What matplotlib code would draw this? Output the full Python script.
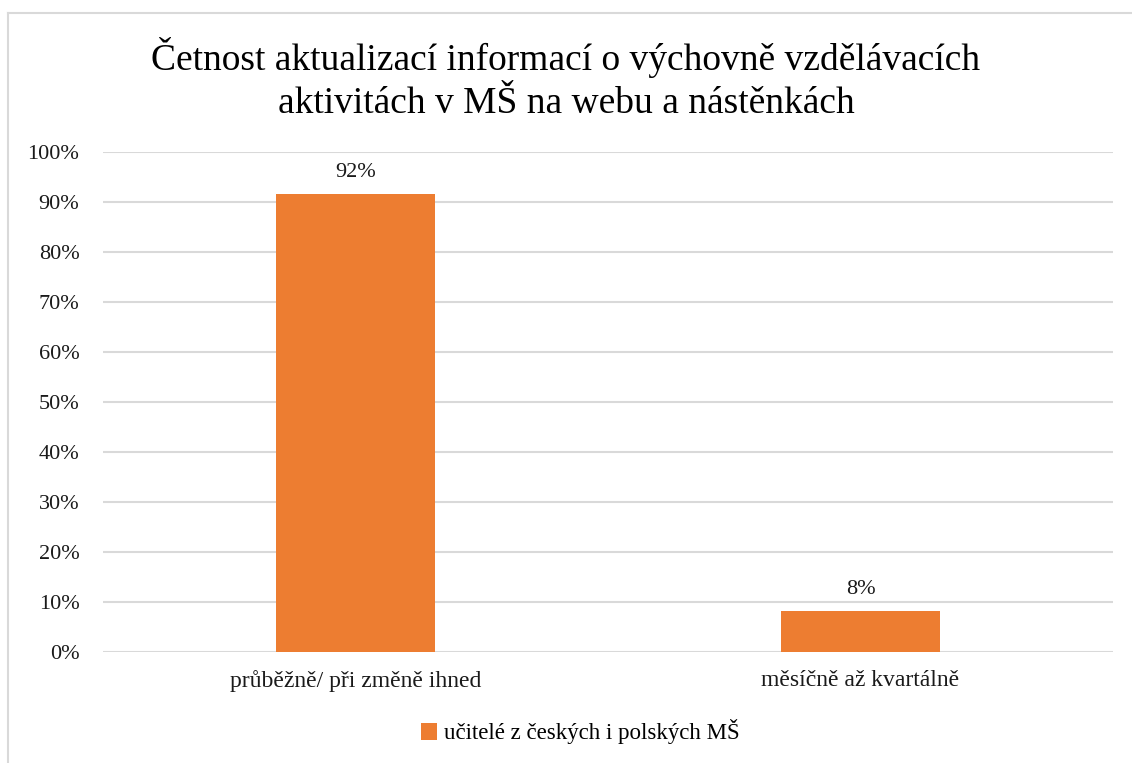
import matplotlib.pyplot as plt
import numpy as np
from matplotlib.lines import Line2D

plt.rcParams['font.family'] = ['Liberation Serif', 'DejaVu Serif']

# data
categories = ['průběžně/ při změně ihned', 'měsíčně až kvartálně']
values = [0.917, 0.083]
series_name = 'učitelé z českých i polských MŠ'
title = 'Četnost aktualizací informací o výchovně vzdělávacích\naktivitách v MŠ na webu a nástěnkách'
yticks = np.arange(0, 1.01, 0.1)

fig = plt.figure(figsize=(11.32, 7.63), dpi=100)
ax = fig.add_axes([103/1132, 1 - 652/763, (1113-103)/1132, 500/763])

x = np.arange(len(categories))
bars = ax.bar(x, values, width=0.313, color='#ED7D31', label=series_name, zorder=3)

for b, v in zip(bars, values):
    ax.annotate('{:.0%}'.format(v), (b.get_x() + b.get_width()/2, v),
                xytext=(0, 8), textcoords='offset points',
                ha='center', va='bottom', fontsize=16, color='#1a1a1a')

ax.set_xlim(-0.5, len(categories) - 0.5)
ax.set_ylim(0, 1.0)
ax.set_yticks(yticks)
ax.set_yticklabels(['{:.0f}%'.format(t*100) for t in yticks])
ax.set_xticks(x)
ax.set_xticklabels(categories)
ax.tick_params(axis='y', length=0, pad=17, labelsize=16, labelcolor='#1a1a1a')
ax.tick_params(axis='x', length=0, pad=13, labelsize=17, labelcolor='#1a1a1a')
ax.grid(axis='y', color='#D9D9D9', linewidth=1.5, zorder=0)
for s in ax.spines.values():
    s.set_visible(False)

fig.text(0.5, 1 - 79/763, title, ha='center', va='center', fontsize=27,
         linespacing=1.32, color='black')

fig.legend(handles=[bars], labels=[series_name], loc='center',
           bbox_to_anchor=(580/1132, 1 - 732/763), frameon=False,
           fontsize=16.5, handlelength=0.7, handleheight=0.7, handletextpad=0.3)

# chart area border
fig.add_artist(Line2D([8/1132, 1], [1 - 13/763, 1 - 13/763], color='#D9D9D9',
                      linewidth=1.5, transform=fig.transFigure))
fig.add_artist(Line2D([8/1132, 8/1132], [0, 1 - 13/763], color='#D9D9D9',
                      linewidth=1.5, transform=fig.transFigure))

fig.savefig('out.png', dpi=100)
